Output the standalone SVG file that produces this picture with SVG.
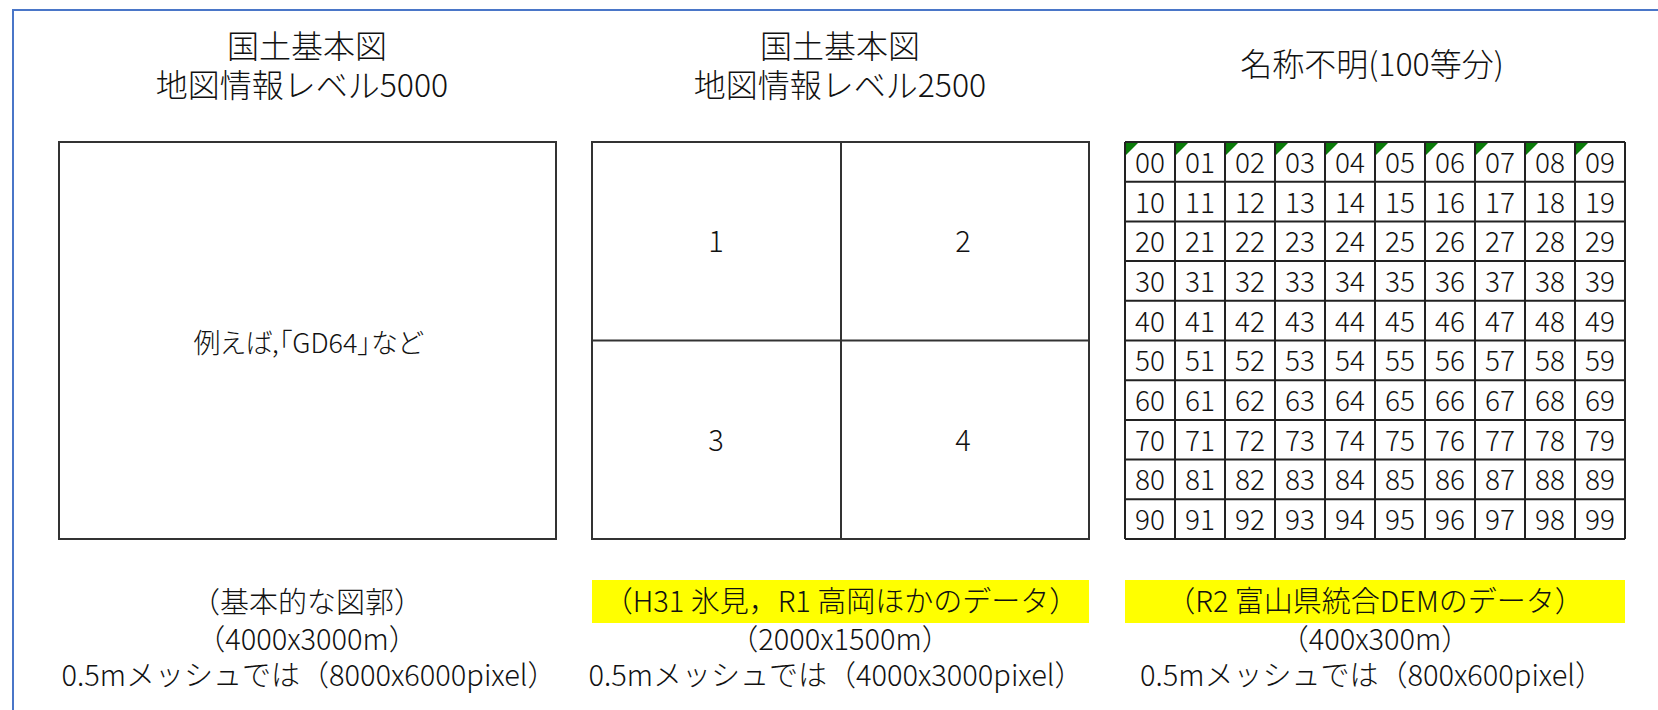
<svg xmlns="http://www.w3.org/2000/svg" width="1658" height="710" viewBox="0 0 1658 710">
<style>
.t{font-family:"Noto Sans CJK JP","Liberation Sans",sans-serif;font-size:29px;font-weight:300;fill:#111;text-anchor:middle}
.ti{font-size:32px}
.g{font-family:"Noto Sans CJK JP","Liberation Sans",sans-serif;font-size:28px;font-weight:300;fill:#111;text-anchor:middle}
.box{fill:#fff;stroke:#333;stroke-width:2}
.ln{stroke:#333;stroke-width:2}
.gl{stroke:#222;stroke-width:2}
.tri{fill:#0a7a0a}
.hl{fill:#ffff00}
</style>
<rect x="0" y="0" width="1658" height="710" fill="#fff"/>
<rect x="13" y="10" width="1700" height="800" fill="none" stroke="#4a76c8" stroke-width="2"/>

<g id="col1">
<text class="t ti"><tspan x="307" y="58">国土基本図</tspan><tspan x="302" y="97">地図情報レベル5000</tspan></text>
<rect class="box" x="59" y="142" width="497" height="397"/>
<text class="t" x="308" y="353" style="font-size:27px;font-feature-settings:'palt'">例えば,「GD64」など</text>
<text class="t"><tspan x="307" y="613">（基本的な図郭）</tspan><tspan x="307" y="650">（4000x3000m）</tspan><tspan x="309" y="686">0.5mメッシュでは（8000x6000pixel）</tspan></text>
</g>

<g id="col2">
<text class="t ti"><tspan x="840" y="58">国土基本図</tspan><tspan x="840" y="97">地図情報レベル2500</tspan></text>
<rect class="box" x="592" y="142" width="497" height="397"/>
<line class="ln" x1="841" y1="142" x2="841" y2="539"/>
<line class="ln" x1="592" y1="340.5" x2="1089" y2="340.5"/>
<text class="t" x="716" y="252">1</text>
<text class="t" x="963" y="252">2</text>
<text class="t" x="716" y="451">3</text>
<text class="t" x="963" y="451">4</text>
<rect class="hl" x="592" y="580" width="497" height="43"/>
<text class="t"><tspan x="841" y="612">（H31 氷見，R1 高岡ほかのデータ）</tspan><tspan x="840" y="650">（2000x1500m）</tspan><tspan x="836" y="686">0.5mメッシュでは（4000x3000pixel）</tspan></text>
</g>

<g id="col3">
<text class="t ti" x="1372" y="76">名称不明(100等分)</text>
<g id="grid">
<rect x="1125" y="142" width="500" height="397" fill="#fff"/>
<polygon class="tri" points="1126,143 1138,143 1126,155"/>
<polygon class="tri" points="1176,143 1188,143 1176,155"/>
<polygon class="tri" points="1226,143 1238,143 1226,155"/>
<polygon class="tri" points="1276,143 1288,143 1276,155"/>
<polygon class="tri" points="1326,143 1338,143 1326,155"/>
<polygon class="tri" points="1376,143 1388,143 1376,155"/>
<polygon class="tri" points="1426,143 1438,143 1426,155"/>
<polygon class="tri" points="1476,143 1488,143 1476,155"/>
<polygon class="tri" points="1526,143 1538,143 1526,155"/>
<polygon class="tri" points="1576,143 1588,143 1576,155"/>
<g class="gl">
<line x1="1125" y1="142" x2="1125" y2="539"/>
<line x1="1175" y1="142" x2="1175" y2="539"/>
<line x1="1225" y1="142" x2="1225" y2="539"/>
<line x1="1275" y1="142" x2="1275" y2="539"/>
<line x1="1325" y1="142" x2="1325" y2="539"/>
<line x1="1375" y1="142" x2="1375" y2="539"/>
<line x1="1425" y1="142" x2="1425" y2="539"/>
<line x1="1475" y1="142" x2="1475" y2="539"/>
<line x1="1525" y1="142" x2="1525" y2="539"/>
<line x1="1575" y1="142" x2="1575" y2="539"/>
<line x1="1625" y1="142" x2="1625" y2="539"/>
<line x1="1125" y1="142" x2="1625" y2="142"/>
<line x1="1125" y1="181.7" x2="1625" y2="181.7"/>
<line x1="1125" y1="221.4" x2="1625" y2="221.4"/>
<line x1="1125" y1="261.1" x2="1625" y2="261.1"/>
<line x1="1125" y1="300.8" x2="1625" y2="300.8"/>
<line x1="1125" y1="340.5" x2="1625" y2="340.5"/>
<line x1="1125" y1="380.2" x2="1625" y2="380.2"/>
<line x1="1125" y1="419.9" x2="1625" y2="419.9"/>
<line x1="1125" y1="459.6" x2="1625" y2="459.6"/>
<line x1="1125" y1="499.3" x2="1625" y2="499.3"/>
<line x1="1125" y1="539" x2="1625" y2="539"/>
</g>
<g class="g">
<text x="1150" y="173">00</text><text x="1200" y="173">01</text><text x="1250" y="173">02</text><text x="1300" y="173">03</text><text x="1350" y="173">04</text><text x="1400" y="173">05</text><text x="1450" y="173">06</text><text x="1500" y="173">07</text><text x="1550" y="173">08</text><text x="1600" y="173">09</text>
<text x="1150" y="213">10</text><text x="1200" y="213">11</text><text x="1250" y="213">12</text><text x="1300" y="213">13</text><text x="1350" y="213">14</text><text x="1400" y="213">15</text><text x="1450" y="213">16</text><text x="1500" y="213">17</text><text x="1550" y="213">18</text><text x="1600" y="213">19</text>
<text x="1150" y="252">20</text><text x="1200" y="252">21</text><text x="1250" y="252">22</text><text x="1300" y="252">23</text><text x="1350" y="252">24</text><text x="1400" y="252">25</text><text x="1450" y="252">26</text><text x="1500" y="252">27</text><text x="1550" y="252">28</text><text x="1600" y="252">29</text>
<text x="1150" y="292">30</text><text x="1200" y="292">31</text><text x="1250" y="292">32</text><text x="1300" y="292">33</text><text x="1350" y="292">34</text><text x="1400" y="292">35</text><text x="1450" y="292">36</text><text x="1500" y="292">37</text><text x="1550" y="292">38</text><text x="1600" y="292">39</text>
<text x="1150" y="332">40</text><text x="1200" y="332">41</text><text x="1250" y="332">42</text><text x="1300" y="332">43</text><text x="1350" y="332">44</text><text x="1400" y="332">45</text><text x="1450" y="332">46</text><text x="1500" y="332">47</text><text x="1550" y="332">48</text><text x="1600" y="332">49</text>
<text x="1150" y="371">50</text><text x="1200" y="371">51</text><text x="1250" y="371">52</text><text x="1300" y="371">53</text><text x="1350" y="371">54</text><text x="1400" y="371">55</text><text x="1450" y="371">56</text><text x="1500" y="371">57</text><text x="1550" y="371">58</text><text x="1600" y="371">59</text>
<text x="1150" y="411">60</text><text x="1200" y="411">61</text><text x="1250" y="411">62</text><text x="1300" y="411">63</text><text x="1350" y="411">64</text><text x="1400" y="411">65</text><text x="1450" y="411">66</text><text x="1500" y="411">67</text><text x="1550" y="411">68</text><text x="1600" y="411">69</text>
<text x="1150" y="451">70</text><text x="1200" y="451">71</text><text x="1250" y="451">72</text><text x="1300" y="451">73</text><text x="1350" y="451">74</text><text x="1400" y="451">75</text><text x="1450" y="451">76</text><text x="1500" y="451">77</text><text x="1550" y="451">78</text><text x="1600" y="451">79</text>
<text x="1150" y="490">80</text><text x="1200" y="490">81</text><text x="1250" y="490">82</text><text x="1300" y="490">83</text><text x="1350" y="490">84</text><text x="1400" y="490">85</text><text x="1450" y="490">86</text><text x="1500" y="490">87</text><text x="1550" y="490">88</text><text x="1600" y="490">89</text>
<text x="1150" y="530">90</text><text x="1200" y="530">91</text><text x="1250" y="530">92</text><text x="1300" y="530">93</text><text x="1350" y="530">94</text><text x="1400" y="530">95</text><text x="1450" y="530">96</text><text x="1500" y="530">97</text><text x="1550" y="530">98</text><text x="1600" y="530">99</text>
</g>
</g>
<rect class="hl" x="1125" y="580" width="500" height="43"/>
<text class="t"><tspan x="1375" y="612">（R2 富山県統合DEMのデータ）</tspan><tspan x="1375" y="650">（400x300m）</tspan><tspan x="1372" y="686">0.5mメッシュでは（800x600pixel）</tspan></text>
</g>
<g id="connectors"/>
</svg>
